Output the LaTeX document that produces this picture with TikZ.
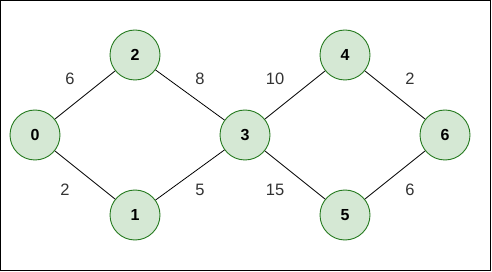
\documentclass[tikz,border=0pt]{standalone}
\usepackage{fontspec}
\setmainfont{Liberation Sans}
\definecolor{nodefill}{HTML}{D5E8D4}
\definecolor{nodeline}{HTML}{257A1E}
\definecolor{labelgray}{HTML}{333333}
\begin{document}
\begin{tikzpicture}[x=1pt,y=-1pt,
  vertex/.style={circle, draw=nodeline, fill=nodefill, line width=0.9pt, minimum size=50pt, inner sep=0pt, font=\fontsize{16}{16}\selectfont\bfseries},
  edge/.style={draw=black, line width=0.8pt},
  wlabel/.style={font=\fontsize{16.5}{16.5}\selectfont, text=labelgray, inner sep=0pt}]
\useasboundingbox (0,0) rectangle (492,272);
\draw[line width=1pt] (0.5,0.5) rectangle (490.5,270.5);
\node[vertex] (n0) at (35,135) {0};
\node[vertex] (n2) at (135,55) {2};
\node[vertex] (n1) at (135,215) {1};
\node[vertex] (n3) at (245,135) {3};
\node[vertex] (n4) at (345,55) {4};
\node[vertex] (n5) at (345,215) {5};
\node[vertex] (n6) at (445,135) {6};
\draw[edge] (n0) -- (n2);
\draw[edge] (n0) -- (n1);
\draw[edge] (n2) -- (n3);
\draw[edge] (n1) -- (n3);
\draw[edge] (n3) -- (n4);
\draw[edge] (n3) -- (n5);
\draw[edge] (n4) -- (n6);
\draw[edge] (n5) -- (n6);
\node[wlabel] (w02) at (70,79) {6};
\node[wlabel] (w23) at (200,79) {8};
\node[wlabel] (w01) at (65,190) {2};
\node[wlabel] (w13) at (200,190) {5};
\node[wlabel] (w34) at (275,79) {10};
\node[wlabel] (w46) at (410,79) {2};
\node[wlabel] (w35) at (275,190) {15};
\node[wlabel] (w56) at (410,190) {6};
\end{tikzpicture}
\end{document}
